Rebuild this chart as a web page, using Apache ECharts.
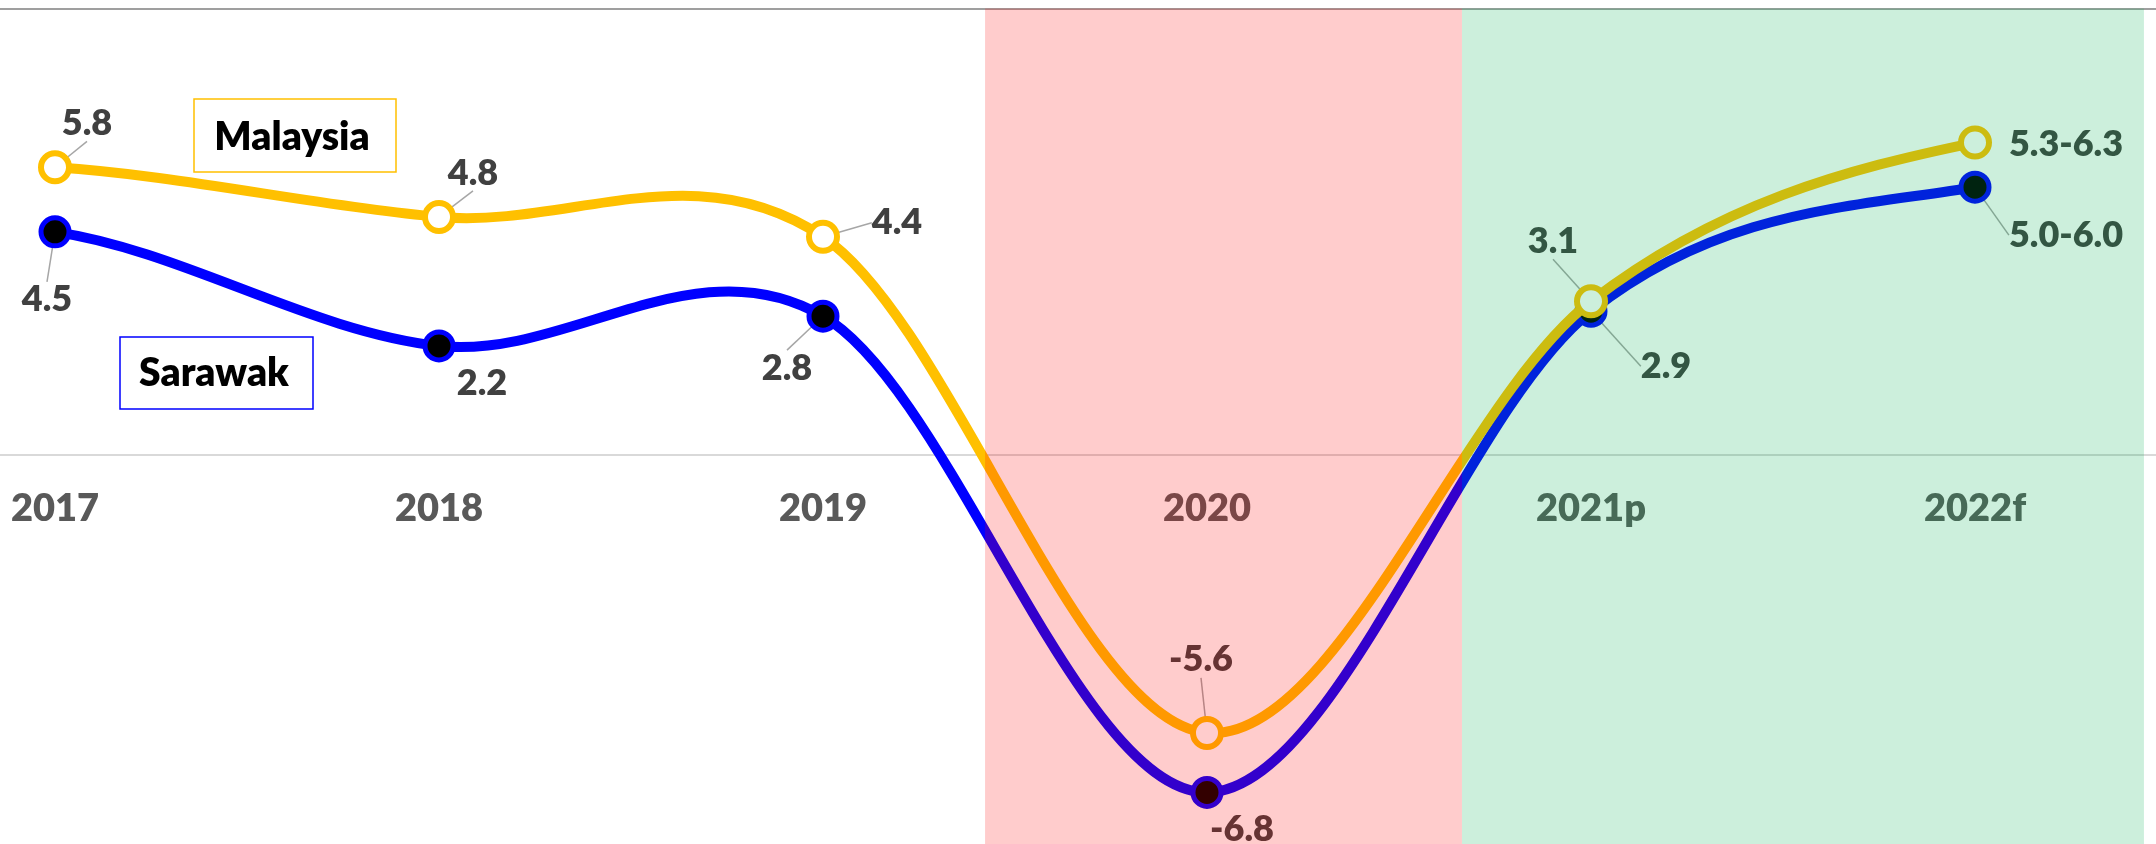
<!DOCTYPE html>
<html>
<head>
<meta charset="utf-8">
<script src="https://cdn.jsdelivr.net/npm/echarts@6/dist/echarts.min.js"></script>
<style>
  html, body { margin: 0; padding: 0; background: #ffffff; }
  #chart { width: 2156px; height: 844px; }
</style>
</head>
<body>
<div id="chart"></div>
<script>
// ---- data ----
const categories = ['2017', '2018', '2019', '2020', '2021p', '2022f'];
const malaysiaValues = [5.8, 4.8, 4.4, -5.6, 3.1, 6.3];
const malaysiaLabels = ['5.8', '4.8', '4.4', '-5.6', '3.1', '5.3-6.3'];
const sarawakValues = [4.5, 2.2, 2.8, -6.8, 2.9, 5.4];
const sarawakLabels = ['4.5', '2.2', '2.8', '-6.8', '2.9', '5.0-6.0'];
// shaded periods, in category-index units
const recessionBand = [2.422, 3.664];
const recoveryBand = [3.664, 5.44];

// ---- layout / style settings ----
const Y_MIN = -7.84, Y_MAX = 9;
const GRID_TOP = 8.6, GRID_BOTTOM = 0, CHART_H = 844;
const malaysiaLabelShift = [[32, -44], [34, -44], [74, -14], [-6, -73], [-38, -60], [91, 2]];
const sarawakLabelShift = [[-8, 68], [43, 37], [-36, 52], [35, 37], [75, 55], [91, 48]];
const malaysiaLeader = [true, true, true, true, true, false];
const sarawakLeader = [true, false, true, false, true, true];
const FONT = 'Lato';
const LABEL_WEIGHT = 800;
const LINE_W = 10;

const gridH = CHART_H - GRID_TOP - GRID_BOTTOM;
const zeroOffset = -gridH * (0 - Y_MIN) / (Y_MAX - Y_MIN);

const labelStyle = {
  show: true,
  position: 'inside',
  fontFamily: FONT,
  fontWeight: LABEL_WEIGHT,
  fontSize: 36,
  color: '#404040'
};
const leaderLineStyle = { color: '#a6a6a6', width: 1.5 };

// Smoothed (Catmull-Rom style, like a spreadsheet "smoothed line") curve through the
// points, positioned with the chart's own scales via api.coord.
function smoothCurveSeries(name, values, color, z) {
  return {
    name: name,
    type: 'custom',
    coordinateSystem: 'cartesian2d',
    xAxisIndex: 0,
    yAxisIndex: 0,
    z: z,
    silent: true,
    data: values.map((v, i) => [i, v]),
    renderItem: function (params, api) {
      const i = params.dataIndex;
      if (i >= values.length - 1) return null;
      const pt = (k) => api.coord([k, values[Math.max(0, Math.min(values.length - 1, k))]]);
      const p0 = pt(i - 1), p1 = pt(i), p2 = pt(i + 1), p3 = pt(i + 2);
      return {
        type: 'bezierCurve',
        shape: {
          x1: p1[0], y1: p1[1],
          cpx1: p1[0] + (p2[0] - p0[0]) / 6, cpy1: p1[1] + (p2[1] - p0[1]) / 6,
          cpx2: p2[0] - (p3[0] - p1[0]) / 6, cpy2: p2[1] - (p3[1] - p1[1]) / 6,
          x2: p2[0], y2: p2[1]
        },
        style: { stroke: color, lineWidth: LINE_W, fill: null, lineCap: 'round' }
      };
    }
  };
}

function pointSeries(name, values, labels, shifts, leaders, fill, border, borderWidth, z) {
  return {
    name: name,
    type: 'line',
    xAxisIndex: 0,
    data: values.map((v, i) => ({
      value: v,
      labelLine: { show: leaders[i], lineStyle: leaderLineStyle }
    })),
    symbol: 'circle',
    symbolSize: 28,
    z: z,
    lineStyle: { width: 0, opacity: 0 },
    itemStyle: { color: fill, borderColor: border, borderWidth: borderWidth },
    label: Object.assign({}, labelStyle, { formatter: (p) => labels[p.dataIndex] }),
    labelLine: { show: true, lineStyle: leaderLineStyle },
    labelLayout: (p) => ({ dx: shifts[p.dataIndex][0], dy: shifts[p.dataIndex][1] })
  };
}

const chart = echarts.init(document.getElementById('chart'), null, { renderer: 'canvas' });

chart.setOption({
  animation: false,
  backgroundColor: '#ffffff',
  grid: {
    left: -137, right: -11, top: GRID_TOP, bottom: GRID_BOTTOM,
    containLabel: false, outerBoundsMode: 'none'
  },
  xAxis: [
    {
      type: 'category',
      data: categories,
      position: 'bottom',
      offset: zeroOffset,
      boundaryGap: true,
      axisLine: { show: true, onZero: false, lineStyle: { color: '#d9d9d9', width: 2 } },
      axisTick: { show: false },
      splitLine: { show: false },
      axisLabel: {
        margin: 35, fontFamily: FONT, fontWeight: LABEL_WEIGHT, fontSize: 38, color: '#595959', interval: 0
      }
    },
    {
      type: 'category',
      data: categories,
      position: 'top',
      boundaryGap: true,
      axisLine: { show: true, onZero: false, lineStyle: { color: '#7f7f7f', width: 1.5 } },
      axisTick: { show: false },
      axisLabel: { show: false },
      splitLine: { show: false }
    },
    {
      type: 'value',
      min: -0.5,
      max: 5.5,
      show: false
    }
  ],
  yAxis: {
    type: 'value',
    min: Y_MIN,
    max: Y_MAX,
    show: false,
    splitLine: { show: false }
  },
  graphic: [
    {
      type: 'rect',
      shape: { x: 194, y: 99, width: 202, height: 73 },
      style: { fill: '#ffffff', stroke: '#ffc000', lineWidth: 1.5 },
      z: 1
    },
    {
      type: 'text',
      x: 292, y: 137,
      style: {
        text: 'Malaysia', fill: '#000000', font: LABEL_WEIGHT + ' 39px Lato',
        textAlign: 'center', textVerticalAlign: 'middle'
      },
      z: 1
    },
    {
      type: 'rect',
      shape: { x: 120, y: 337, width: 193, height: 72 },
      style: { fill: '#ffffff', stroke: '#0000ff', lineWidth: 1.5 },
      z: 1
    },
    {
      type: 'text',
      x: 214, y: 373,
      style: {
        text: 'Sarawak', fill: '#000000', font: LABEL_WEIGHT + ' 39px Lato',
        textAlign: 'center', textVerticalAlign: 'middle'
      },
      z: 1
    }
  ],
  series: [
    smoothCurveSeries('Sarawak line', sarawakValues, '#0000ff', 2),
    pointSeries('Sarawak', sarawakValues, sarawakLabels, sarawakLabelShift, sarawakLeader, '#000000', '#0000ff', 5, 3),
    smoothCurveSeries('Malaysia line', malaysiaValues, '#ffc000', 4),
    pointSeries('Malaysia', malaysiaValues, malaysiaLabels, malaysiaLabelShift, malaysiaLeader, '#ffffff', '#ffc000', 6, 5),
    {
      name: 'periods',
      type: 'line',
      xAxisIndex: 2,
      data: [],
      silent: true,
      markArea: {
        z: 10,
        silent: true,
        label: { show: false },
        data: [
          [
            { xAxis: recessionBand[0], yAxis: Y_MAX, itemStyle: { color: 'rgba(255,0,0,0.2)' } },
            { xAxis: recessionBand[1], yAxis: Y_MIN }
          ],
          [
            { xAxis: recoveryBand[0], yAxis: Y_MAX, itemStyle: { color: 'rgba(0,176,80,0.2)' } },
            { xAxis: recoveryBand[1], yAxis: Y_MIN }
          ]
        ]
      }
    }
  ]
});
</script>
</body>
</html>
